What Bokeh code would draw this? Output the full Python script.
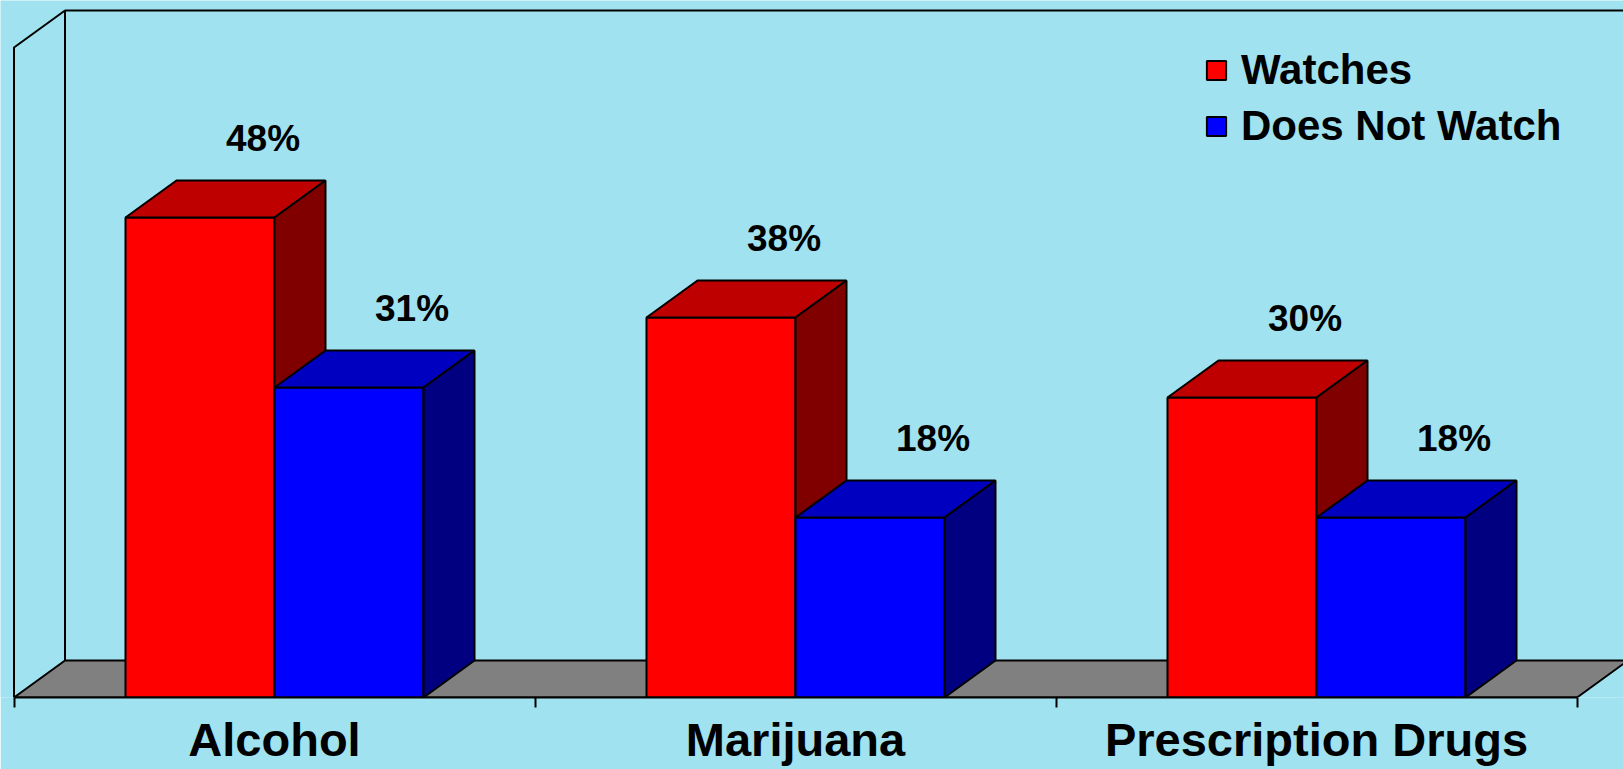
from bokeh.plotting import figure
from bokeh.models import (Range1d, LinearAxis, FixedTicker, Legend, LegendItem,
                          ColumnDataSource)
from bokeh.core.properties import value
from bokeh.embed import file_html
from bokeh.resources import INLINE

# ---------------- data ----------------
categories = ["Alcohol", "Marijuana", "Prescription Drugs"]
series_names = ["Watches", "Does Not Watch"]
watches = [48, 38, 30]
does_not_watch = [31, 18, 18]
y_max = 65  # top of the value axis (walls)

# ---------------- layout / style ----------------
W, H = 1623, 769
BOTTOM_BORDER = 72
SLOT_PX = 521.0          # pixel width of one category slot
X0_PX = 13.5             # pixel position of slot 0 from the figure's left edge
PX_PER_UNIT = 10.0       # pixels per percent
GAP = 0.214              # gap on each side of a bar pair (slot units)
BAR_W = 0.286            # width of one bar (slot units)
DX = 51 / SLOT_PX        # depth offset (slot units)
DY = 37 / PX_PER_UNIT    # depth offset (percent units)

BG = "#A0E2F0"
FONT = "Liberation Sans"
colors = {
    "Watches": ("#FF0000", "#BF0000", "#800000"),
    "Does Not Watch": ("#0000FF", "#0000C0", "#000080"),
}

frame_h = H - BOTTOM_BORDER
x_start = -X0_PX / SLOT_PX
x_end = (W - X0_PX) / SLOT_PX
y_end = frame_h / PX_PER_UNIT

p = figure(width=W, height=H, output_backend="svg", toolbar_location=None,
           x_axis_type=None, y_axis_type=None,
           x_range=Range1d(x_start, x_end), y_range=Range1d(0, y_end),
           min_border_left=0, min_border_right=0, min_border_top=0,
           min_border_bottom=BOTTOM_BORDER)
p.background_fill_color = BG
p.border_fill_color = BG
p.outline_line_color = None
p.grid.visible = False

n = len(categories)

# floor
p.patch([0, n, n + DX, DX], [0, 0, DY, DY], fill_color="#808080",
        line_color="black", line_width=2)
# left wall and back wall edges
p.line([0, 0, DX], [0, y_max, y_max + DY], line_color="black", line_width=2)
p.line([DX, DX, x_end + 1], [DY, y_max + DY, y_max + DY], line_color="black", line_width=2)


def faces(x0s, vals):
    fr, tp, sd = ([], []), ([], []), ([], [])
    for x0, v in zip(x0s, vals):
        x1 = x0 + BAR_W
        fr[0].append([x0, x1, x1, x0]); fr[1].append([0, 0, v, v])
        tp[0].append([x0, x1, x1 + DX, x0 + DX]); tp[1].append([v, v, v + DY, v + DY])
        sd[0].append([x1, x1 + DX, x1 + DX, x1]); sd[1].append([0, DY, v + DY, v])
    return fr, tp, sd


front_renderers = []
label_x, label_y, label_t = [], [], []
for k, (name, vals) in enumerate(zip(series_names, [watches, does_not_watch])):
    x0s = [i + GAP + k * BAR_W for i in range(n)]
    fr, tp, sd = faces(x0s, vals)
    cf, ct, cs = colors[name]
    rf = p.patches(fr[0], fr[1], fill_color=cf, line_color="black", line_width=2)
    p.patches(tp[0], tp[1], fill_color=ct, line_color="black", line_width=2)
    p.patches(sd[0], sd[1], fill_color=cs, line_color="black", line_width=2)
    front_renderers.append(rf)
    for x0, v in zip(x0s, vals):
        label_x.append(x0 + BAR_W / 2)
        label_y.append(v)
        label_t.append(f"{v}%")

src = ColumnDataSource(dict(x=label_x, y=label_y, t=label_t))
p.text(x="x", y="y", text="t", source=src, text_font=value(FONT),
       text_font_style="bold", text_font_size="37px", text_color="black",
       text_align="center", text_baseline="middle", x_offset=63, y_offset=-79)

# category axis
xaxis = LinearAxis(
    ticker=FixedTicker(ticks=[i + 0.5 for i in range(n)],
                       minor_ticks=[float(i) for i in range(n + 1)]),
    major_label_overrides={i + 0.5: c for i, c in enumerate(categories)},
    bounds=(0, n),
)
xaxis.axis_line_color = "black"
xaxis.axis_line_width = 2
xaxis.major_tick_out = 0
xaxis.major_tick_in = 0
xaxis.minor_tick_out = 10
xaxis.minor_tick_in = 0
xaxis.minor_tick_line_color = "black"
xaxis.minor_tick_line_width = 2
xaxis.major_label_text_font = FONT
xaxis.major_label_text_font_style = "bold"
xaxis.major_label_text_font_size = "47px"
xaxis.major_label_text_color = "black"
xaxis.major_label_standoff = 5
p.add_layout(xaxis, "below")

legend = Legend(
    items=[LegendItem(label=nm, renderers=[r]) for nm, r in zip(series_names, front_renderers)],
    location=(1204, 547), glyph_width=24, glyph_height=24, label_standoff=13,
    spacing=8, padding=0, margin=0, border_line_color=None,
    background_fill_alpha=0, label_text_font=FONT, label_text_font_style="bold",
    label_text_font_size="42px", label_text_color="black",
)
p.add_layout(legend)

open("out.html", "w").write(file_html(p, INLINE))
